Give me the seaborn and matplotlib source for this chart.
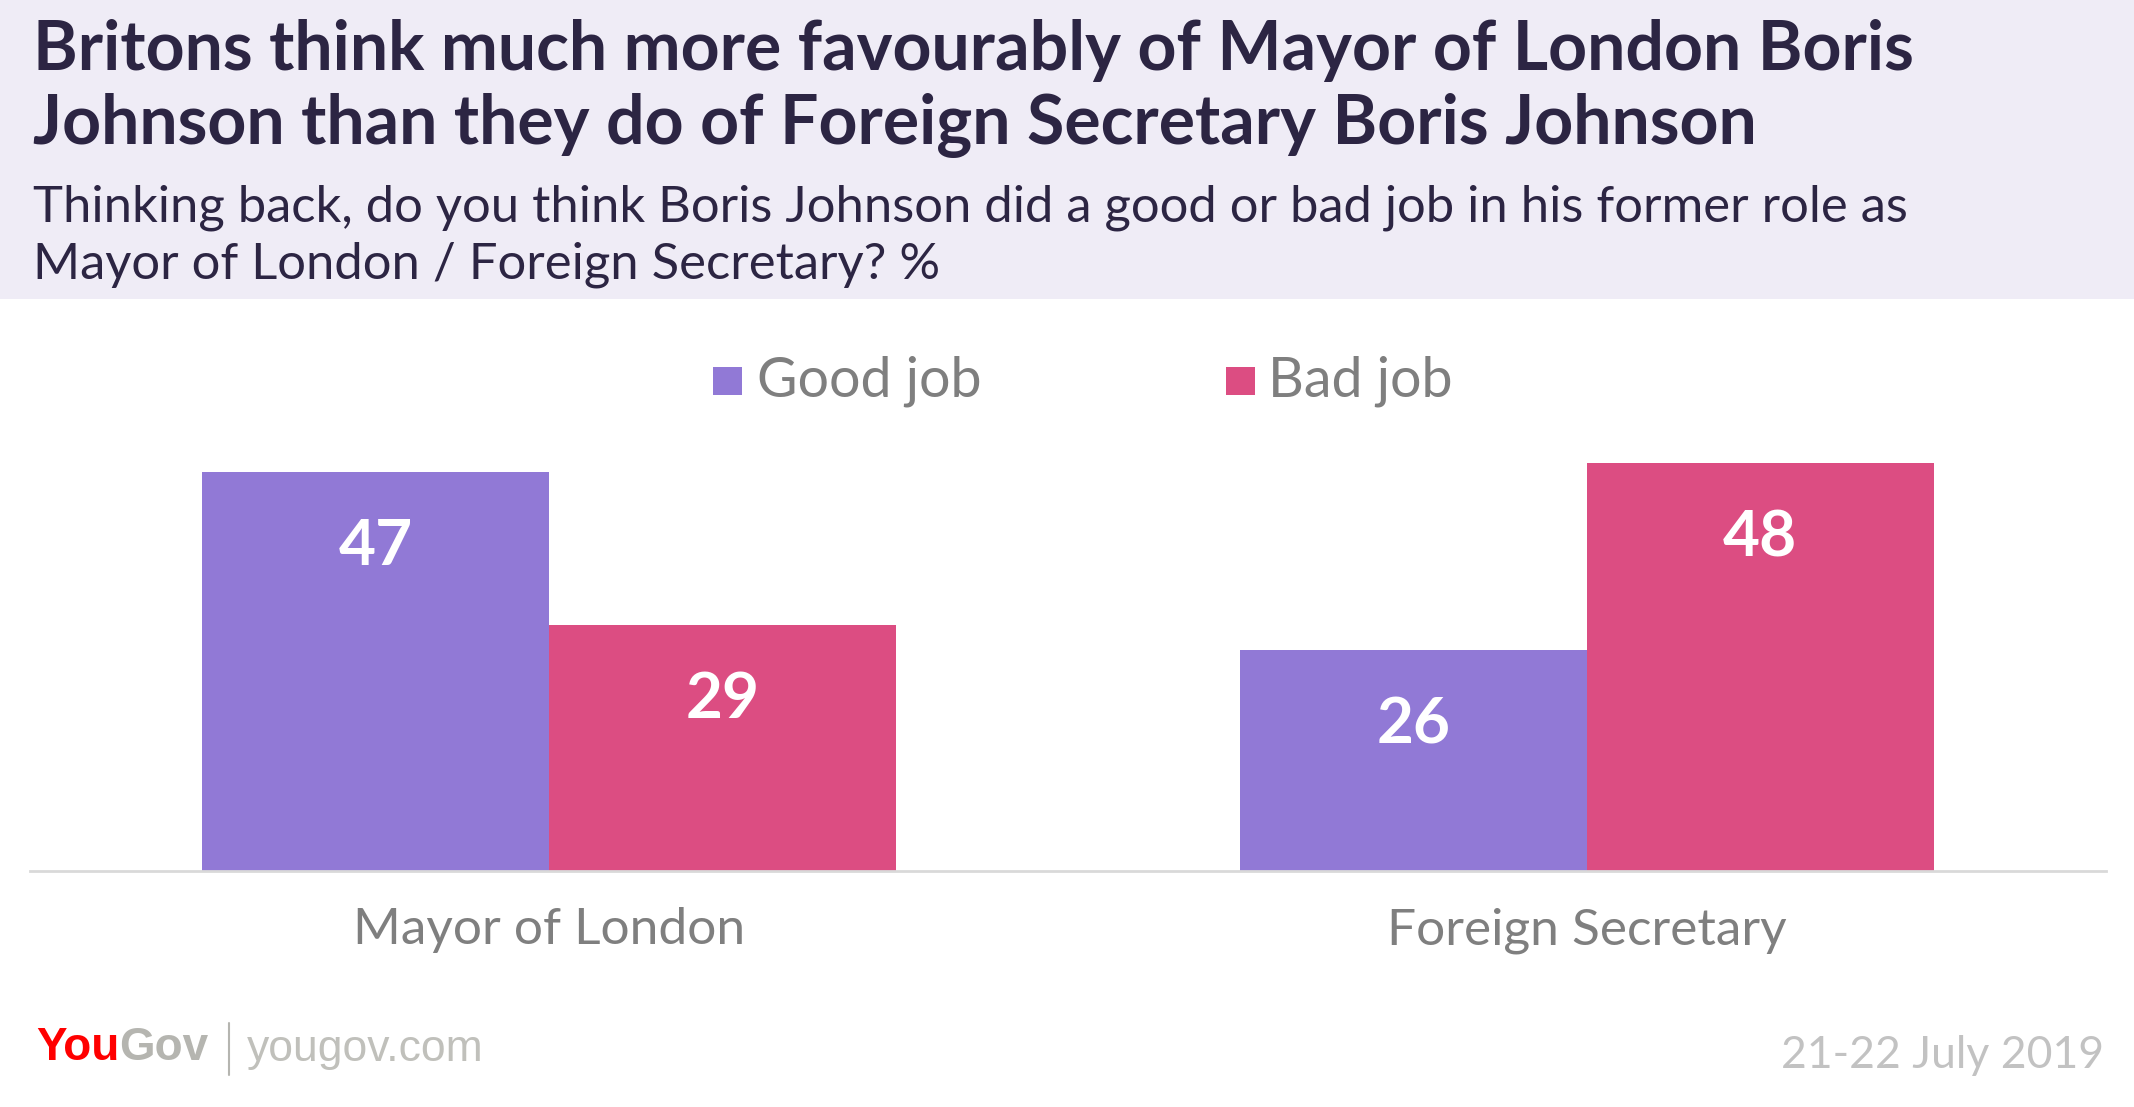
import matplotlib
matplotlib.use("Agg")
import matplotlib.pyplot as plt
import seaborn as sns
import pandas as pd
from matplotlib.patches import Rectangle

roles = ["Mayor of London", "Foreign Secretary"]
series = ["Good job", "Bad job"]
good_job = [47, 26]
bad_job = [29, 48]
colors = ["#9179d6", "#dc4d82"]

title_lines = ["Britons think much more favourably of Mayor of London Boris",
               "Johnson than they do of Foreign Secretary Boris Johnson"]
subtitle_lines = ["Thinking back, do you think Boris Johnson did a good or bad job in his former role as",
                  "Mayor of London / Foreign Secretary? %"]
date_text = "21-22 July 2019"

df = pd.DataFrame({
    "role": roles * 2,
    "answer": [series[0]] * len(roles) + [series[1]] * len(roles),
    "value": good_job + bad_job,
})

sns.set_theme(style="white")
plt.rcParams["font.family"] = ["Lato", "DejaVu Sans"]

W, H = 2134, 1107
fig = plt.figure(figsize=(W / 100, H / 100), dpi=100)
fig.patch.set_facecolor("white")

def fx(x):
    return x / W

def fy(y):
    return 1 - y / H

# header background
fig.patches.append(Rectangle((0, fy(299)), 1, 299 / H, transform=fig.transFigure,
                             facecolor="#efecf6", edgecolor="none", zorder=0))

title_color = "#2c2543"
fig.text(fx(33), fy(51), title_lines[0], fontsize=49, fontweight="bold",
         color=title_color, va="center", ha="left")
fig.text(fx(33), fy(126), title_lines[1], fontsize=49, fontweight="bold",
         color=title_color, va="center", ha="left")
fig.text(fx(33), fy(208), subtitle_lines[0], fontsize=36.5, color=title_color,
         va="center", ha="left")
fig.text(fx(33), fy(265), subtitle_lines[1], fontsize=36.5, color=title_color,
         va="center", ha="left")

ax = fig.add_axes([fx(30), fy(871), fx(2106) - fx(30), (871 - 404) / H])
sns.barplot(data=df, x="role", y="value", hue="answer", order=roles,
            hue_order=series, palette=colors, width=0.668, ax=ax,
            saturation=1, legend=False, edgecolor="none", linewidth=0)
ax.set_xlim(-0.5, 1.5)
ax.set_ylim(0, 55)
ax.set_xlabel("")
ax.set_ylabel("")
ax.set_yticks([])
ax.tick_params(axis="x", length=0, labelsize=37, labelcolor="#7f7f7f", pad=26)
for s in ["top", "right", "left"]:
    ax.spines[s].set_visible(False)
ax.spines["bottom"].set_color("#d9d9d9")
ax.spines["bottom"].set_linewidth(2)
ax.set_facecolor("white")

for cont in ax.containers:
    for bar in cont:
        h = bar.get_height()
        ax.text(bar.get_x() + bar.get_width() / 2, h - 8.8, f"{h:.0f}",
                ha="center", va="center", color="white", fontsize=46,
                fontweight="bold")

# legend
leg_y = 381
for (sx, tx, lab, col) in [(713, 757, series[0], colors[0]), (1226, 1268, series[1], colors[1])]:
    fig.patches.append(Rectangle((fx(sx), fy(leg_y + 14)), 29 / W, 28 / H,
                                 transform=fig.transFigure, facecolor=col,
                                 edgecolor="none"))
    fig.text(fx(tx), fy(leg_y), lab, fontsize=40, color="#7f7f7f",
             va="center", ha="left")

# footer
fig.canvas.draw()
r = fig.canvas.get_renderer()
t1 = fig.text(fx(36), fy(1048), "You", fontsize=33, fontweight="bold",
              color="#ff0000", va="center", ha="left",
              family=["Liberation Sans Narrow", "Liberation Sans", "DejaVu Sans"])
bb = t1.get_window_extent(r)
t2 = fig.text(bb.x1 / W, fy(1048), "Gov", fontsize=33, fontweight="bold",
              color="#b5b5b0", va="center", ha="left",
              family=["Liberation Sans Narrow", "Liberation Sans", "DejaVu Sans"])
fig.add_artist(plt.Line2D([fx(229), fx(229)], [fy(1023), fy(1075)],
                          transform=fig.transFigure, color="#b5b5b0", lw=1.5))
fig.text(fx(247), fy(1050), "yougov.com", fontsize=32, color="#c0c0bb",
         va="center", ha="left", family=["Liberation Sans", "DejaVu Sans"])
fig.text(fx(2104), fy(1056), date_text, fontsize=32, color="#c2c2c2",
         va="center", ha="right")

fig.savefig("out.png", dpi=100, facecolor="white")
